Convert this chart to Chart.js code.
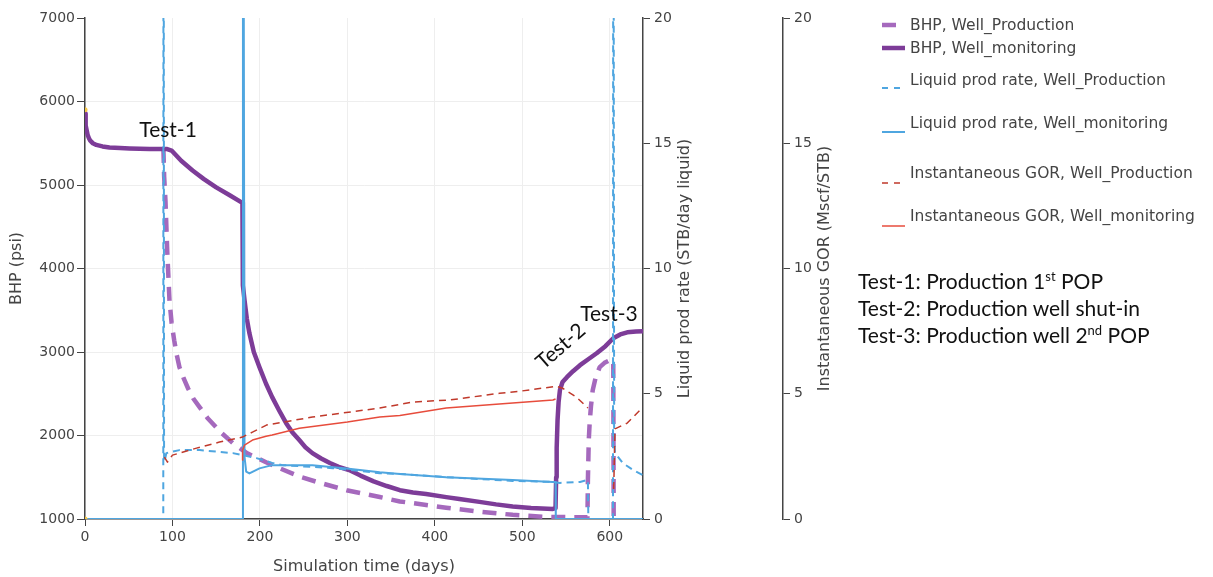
<!DOCTYPE html>
<html>
<head>
<meta charset="utf-8">
<script src="https://cdn.jsdelivr.net/npm/chart.js@4"></script>
<style>
  body { margin: 0; background: #fff; }
  #wrap { position: relative; width: 1213px; height: 577px; }
  #chart { position: absolute; left: 0; top: 0; }
  .lg { position: absolute; left: 910px; font: 15.5px "DejaVu Sans", sans-serif; color: #444; white-space: nowrap; line-height: 18px; }
  .sym { position: absolute; left: 0; top: 0; }
  .note { position: absolute; left: 858px; font: 21px Lato, sans-serif; color: #111; white-space: nowrap; line-height: 26px; }
  .note sup { font-size: 13px; vertical-align: 8px; line-height: 0; }
</style>
</head>
<body>
<div id="wrap">
  <canvas id="chart" width="1213" height="577"></canvas>
  <svg class="sym" width="1213" height="577">
    <line x1="882" y1="25" x2="896" y2="25" stroke="#a569bd" stroke-width="4.5"/>
    <line x1="882" y1="48" x2="905" y2="48" stroke="#7d3c98" stroke-width="4.5"/>
    <line x1="882" y1="88" x2="905" y2="88" stroke="#4fa6e0" stroke-width="2" stroke-dasharray="6 6"/>
    <line x1="882" y1="132" x2="905" y2="132" stroke="#4fa6e0" stroke-width="2"/>
    <line x1="882" y1="183" x2="905" y2="183" stroke="#c0392b" stroke-width="1.5" stroke-dasharray="6 6"/>
    <line x1="882" y1="226" x2="905" y2="226" stroke="#e74c3c" stroke-width="1.5"/>
  </svg>
  <div class="lg" style="top:16px">BHP, Well_Production</div>
  <div class="lg" style="top:39px">BHP, Well_monitoring</div>
  <div class="lg" style="top:71px">Liquid prod rate, Well_Production</div>
  <div class="lg" style="top:114px">Liquid prod rate, Well_monitoring</div>
  <div class="lg" style="top:164px">Instantaneous GOR, Well_Production</div>
  <div class="lg" style="top:207px">Instantaneous GOR, Well_monitoring</div>
  <div class="note" style="top:268px">Test-1: Production 1<sup>st</sup> POP</div>
  <div class="note" style="top:295px">Test-2: Production well shut-in</div>
  <div class="note" style="top:322px">Test-3: Production well 2<sup>nd</sup> POP</div>
</div>
<script>
// bottom-hole pressure (psi)
const bhpMonDays = [0, 0.5, 1, 2, 3, 4.5, 6, 9, 13, 20, 28, 40, 51, 74, 94, 99, 110, 123, 136, 150, 165, 179, 180, 180.5, 182.4, 185, 188, 193, 199.5, 207, 214, 222, 230, 237, 245, 252, 260, 270, 280, 290, 302, 315, 330, 345, 360, 375, 390, 413, 428, 451, 470, 489, 510, 535, 538, 538.7, 539.3, 540.3, 541.5, 543, 546, 551, 558, 566, 575, 585, 595, 604, 612, 620, 630, 638];
const bhpMonPsi  = [5856, 5760, 5712, 5650, 5600, 5560, 5530, 5500, 5480, 5462, 5450, 5442, 5437, 5431, 5431, 5413, 5290, 5174, 5070, 4971, 4880, 4791, 4791, 3800, 3619, 3400, 3224, 3000, 2818, 2620, 2459, 2300, 2148, 2040, 1945, 1860, 1789, 1725, 1670, 1625, 1586, 1520, 1450, 1395, 1345, 1318, 1300, 1262, 1240, 1205, 1175, 1150, 1132, 1120, 1130, 1500, 1850, 2184, 2400, 2543, 2640, 2698, 2770, 2842, 2910, 2985, 3070, 3165, 3210, 3236, 3245, 3248];
const bhpProdDays = [89, 89.7, 90.5, 92, 94, 96.6, 99, 102, 105, 108, 113, 118, 124, 131, 140, 155, 169, 185, 207, 222, 245, 268, 299, 337, 360, 375, 413, 451, 489, 528, 558, 574.5, 575, 576, 577, 578.5, 580.5, 584, 588.5, 594, 600, 604, 604.5, 638];
const bhpProdPsi  = [5431, 5413, 5100, 4815, 4217, 3619, 3350, 3140, 2960, 2818, 2680, 2560, 2440, 2340, 2210, 2040, 1910, 1789, 1680, 1610, 1510, 1435, 1345, 1263, 1210, 1190, 1135, 1088, 1050, 1025, 1022, 1022, 1466, 1945, 2148, 2350, 2543, 2700, 2818, 2870, 2902, 2902, 950, 950];

// liquid production rate (STB/day liquid)
const rateProdDays = [0, 89.5, 89.8, 90.4, 91, 93, 108, 131, 169, 180, 196, 214, 226, 283, 337, 360, 413, 489, 535, 543, 566, 575, 575.5, 603.7, 604, 605, 606, 615, 627, 638];
const rateProdVal  = [0, 0, 40, 2.4, 2.3, 2.63, 2.75, 2.75, 2.63, 2.55, 2.43, 2.24, 2.15, 2.03, 1.83, 1.8, 1.67, 1.52, 1.48, 1.44, 1.48, 1.56, 0, 0, 40, 3.3, 2.63, 2.23, 1.95, 1.75];
const rateMonDays = [0, 180.3, 180.6, 182.4, 184.3, 188, 199.5, 214, 260, 299, 337, 360, 413, 489, 535, 538, 538.3, 638];
const rateMonVal  = [0, 0, 40, 2.48, 1.89, 1.82, 2.02, 2.15, 2.15, 2.02, 1.87, 1.8, 1.67, 1.56, 1.48, 1.48, 0, 0];

// instantaneous GOR (Mscf/STB)
const gorProdDays = [90.8, 94.3, 100, 127.5, 153.8, 180, 191.5, 207.5, 260, 337, 375, 417, 474, 497, 539, 546, 562, 575, 590, 604.5, 606, 620, 638];
const gorProdVal  = [2.47, 2.27, 2.55, 2.83, 3.07, 3.27, 3.47, 3.75, 4.07, 4.43, 4.67, 4.75, 5.02, 5.1, 5.3, 5.22, 4.86, 4.43, null, 1.2, 3.6, 3.83, 4.47];
const gorMonDays = [180, 180.2, 182.4, 191.5, 207, 214, 245, 300, 337, 360, 413, 489, 535, 538];
const gorMonVal  = [2.35, 2.75, 2.95, 3.15, 3.3, 3.35, 3.62, 3.87, 4.07, 4.13, 4.43, 4.63, 4.75, 4.79];

// initial markers at the origin of the run
const startDays = [0, 0];
const startPsi  = [5900, 1000];

const toPoints = (xs, ys) => xs.map((x, i) => ({ x: x, y: ys[i] }));

Chart.defaults.font.family = '"DejaVu Sans", sans-serif';
Chart.defaults.font.size = 14;
Chart.defaults.color = '#444';

const series = [
    { data: toPoints(bhpProdDays, bhpProdPsi), yAxisID: 'y', borderColor: '#a569bd', borderWidth: 4.5, borderDash: [14, 9] },
    { data: toPoints(bhpMonDays, bhpMonPsi), yAxisID: 'y', borderColor: '#7d3c98', borderWidth: 4.5 },
    { data: toPoints(rateProdDays, rateProdVal), yAxisID: 'y2', borderColor: '#4fa6e0', borderWidth: 2, borderDash: [7, 5] },
    { data: toPoints(rateMonDays, rateMonVal), yAxisID: 'y2', borderColor: '#4fa6e0', borderWidth: 2 },
    { data: toPoints(gorProdDays, gorProdVal), yAxisID: 'y3', borderColor: '#c0392b', borderWidth: 1.5, borderDash: [7, 5] },
    { data: toPoints(gorMonDays, gorMonVal), yAxisID: 'y3', borderColor: '#e74c3c', borderWidth: 1.5 }
];
// later traces sit on top
series.forEach((s, i) => {
    s.order = 10 - i;
    s.pointRadius = 0;
    s.fill = false;
    s.tension = 0;
    s.borderJoinStyle = 'round';
    s.spanGaps = false;
});
series.push({
    data: toPoints(startDays, startPsi), yAxisID: 'y', showLine: false,
    pointRadius: 2.5, pointBackgroundColor: '#f4c542', pointBorderWidth: 0, order: 0
});

const annotations = {
    id: 'annotations',
    afterDraw(chart) {
        const { ctx, chartArea, scales } = chart;
        const midY = (chartArea.top + chartArea.bottom) / 2;
        ctx.save();
        ctx.fillStyle = '#444';
        ctx.font = '16px "DejaVu Sans"';
        ctx.textAlign = 'center';
        ctx.textBaseline = 'middle';
        [[scales.y2, 'Liquid prod rate (STB/day liquid)'], [scales.y3, 'Instantaneous GOR (Mscf/STB)']].forEach(([s, text]) => {
            ctx.save();
            ctx.translate(s.left + 42, midY);
            ctx.rotate(-Math.PI / 2);
            ctx.fillText(text, 0, 0);
            ctx.restore();
        });

        ctx.fillStyle = '#111';
        ctx.font = '21px Lato';
        const x = scales.x, y = scales.y;
        ctx.fillText('Test-1', x.getPixelForValue(95), y.getPixelForValue(5652));
        ctx.fillText('Test-3', x.getPixelForValue(599), y.getPixelForValue(3452));
        ctx.save();
        ctx.translate(x.getPixelForValue(544), y.getPixelForValue(3069));
        ctx.rotate(-41 * Math.PI / 180);
        ctx.fillText('Test-2', 0, 0);
        ctx.restore();
        ctx.restore();
    }
};

const plainTick = v => String(v);

new Chart(document.getElementById('chart'), {
    type: 'line',
    data: { datasets: series },
    plugins: [annotations],
    options: {
        responsive: false,
        animation: false,
        devicePixelRatio: 1,
        layout: { padding: { left: 0, top: 18, right: 360, bottom: 0 } },
        plugins: { legend: { display: false }, tooltip: { enabled: false } },
        scales: {
            x: {
                type: 'linear', min: 0, max: 638,
                ticks: { stepSize: 100, includeBounds: false, padding: 3, maxRotation: 0, callback: plainTick },
                grid: { color: '#eee', tickColor: '#444', tickLength: 7 },
                border: { color: '#444', width: 1.5 },
                title: { display: true, text: 'Simulation time (days)', font: { size: 16 }, padding: { top: 0, bottom: 1 } },
                afterFit: s => { s.height = 58; }
            },
            y: {
                position: 'left', min: 1000, max: 7000,
                ticks: { stepSize: 1000, padding: 2, callback: plainTick },
                grid: { color: c => c.tick.value === 7000 ? 'rgba(0,0,0,0)' : '#eee', tickColor: '#444', tickLength: 8 },
                border: { color: '#444', width: 1.5 },
                title: { display: true, text: 'BHP (psi)', font: { size: 16 }, padding: { top: 7, bottom: 0 } },
                afterFit: s => { s.width = 85; }
            },
            y2: {
                position: 'right', min: 0, max: 20,
                ticks: { stepSize: 5, padding: 4, callback: plainTick },
                grid: { drawOnChartArea: false, tickColor: '#444', tickLength: 7 },
                border: { color: '#444', width: 1.5 },
                afterFit: s => { s.width = 140; }
            },
            y3: {
                position: 'right', min: 0, max: 20,
                ticks: { stepSize: 5, padding: 4, callback: plainTick },
                grid: { drawOnChartArea: false, tickColor: '#444', tickLength: 7 },
                border: { color: '#444', width: 1.5 },
                afterFit: s => { s.width = 70; }
            }
        }
    }
});
</script>
</body>
</html>
